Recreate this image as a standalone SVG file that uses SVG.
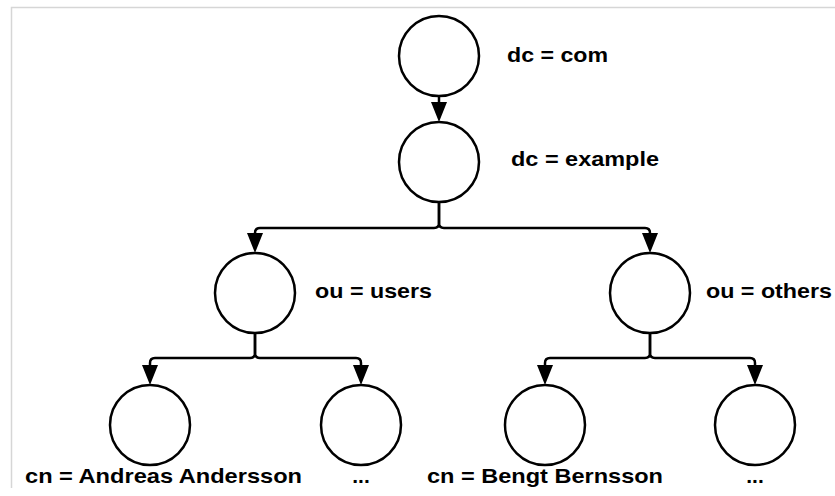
<svg xmlns="http://www.w3.org/2000/svg" width="835" height="496" viewBox="0 0 835 496">
<style>
.node circle{fill:#fff;stroke:#000;stroke-width:2.5}
.lbl{font-family:"Liberation Sans",Arial,sans-serif;font-weight:bold;font-size:21px;fill:#000}
.conn path{fill:none;stroke:#000;stroke-width:2.5}
.frame{fill:none;stroke:#d6d6d6;stroke-width:1.5}
</style>
<rect width="835" height="496" fill="#fff"/>
<path class="frame" d="M11.5,488 V7.5 H835"/>
<g class="conn">
<path d="M439,97 V102"/>
<path d="M439,202 V223 Q439,228 434,228 H260 Q255,228 255,233 V240"/>
<path d="M439,202 V223 Q439,228 444,228 H645 Q650,228 650,233 V240"/>
<path d="M255,333 V353 Q255,358 250,358 H155 Q150,358 150,363 V370"/>
<path d="M255,333 V353 Q255,358 260,358 H356 Q361,358 361,363 V370"/>
<path d="M650,333 V353 Q650,358 645,358 H550 Q545,358 545,363 V370"/>
<path d="M650,333 V353 Q650,358 655,358 H750 Q755,358 755,363 V370"/>
</g>
<g fill="#000">
<path d="M431,102 H447 L439,122 Z"/>
<path d="M247,233 H263 L255,253 Z"/>
<path d="M642,233 H658 L650,253 Z"/>
<path d="M142,365 H158 L150,385 Z"/>
<path d="M353,365 H369 L361,385 Z"/>
<path d="M537,365 H553 L545,385 Z"/>
<path d="M747,365 H763 L755,385 Z"/>
</g>
<g id="n-com" class="node"><circle cx="439" cy="56" r="40"/><text class="lbl" x="507" y="62" textLength="101" lengthAdjust="spacingAndGlyphs">dc = com</text></g>
<g id="n-example" class="node"><circle cx="439" cy="162" r="40"/><text class="lbl" x="511" y="166" textLength="148" lengthAdjust="spacingAndGlyphs">dc = example</text></g>
<g id="n-users" class="node"><circle cx="255" cy="293" r="40"/><text class="lbl" x="315" y="298" textLength="117" lengthAdjust="spacingAndGlyphs">ou = users</text></g>
<g id="n-others" class="node"><circle cx="650" cy="293" r="40"/><text class="lbl" x="706" y="298" textLength="126" lengthAdjust="spacingAndGlyphs">ou = others</text></g>
<g id="n-andreas" class="node"><circle cx="150" cy="425" r="40"/><text class="lbl" x="25" y="483" textLength="277" lengthAdjust="spacingAndGlyphs">cn = Andreas Andersson</text></g>
<g id="n-dots1" class="node"><circle cx="361" cy="425" r="40"/><text class="lbl" x="361" y="483" text-anchor="middle">...</text></g>
<g id="n-bengt" class="node"><circle cx="545" cy="425" r="40"/><text class="lbl" x="427" y="483" textLength="236" lengthAdjust="spacingAndGlyphs">cn = Bengt Bernsson</text></g>
<g id="n-dots2" class="node"><circle cx="755" cy="425" r="40"/><text class="lbl" x="755" y="483" text-anchor="middle">...</text></g>
</svg>
